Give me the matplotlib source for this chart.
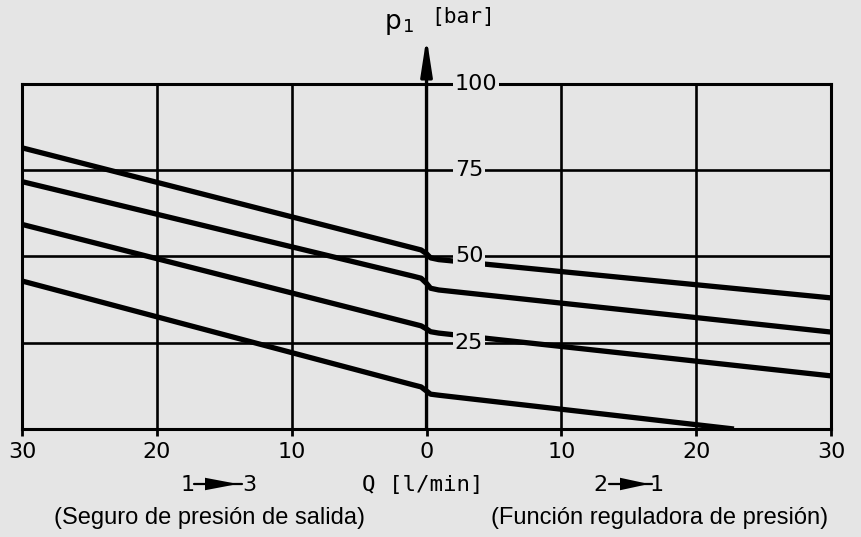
import matplotlib
matplotlib.use("Agg")
from matplotlib import pyplot as plt
from matplotlib.patches import FancyArrowPatch

# flow Q [l/min] (negative side = 1->3, positive side = 2->1) and pressure p1 [bar]
q_a = [-30, -1.0, -0.4, 0.0, 0.3, 0.9, 30]
p_a = [81.5, 52.5, 51.9, 50.8, 49.6, 49.1, 38.0]

q_b = [-30, -1.0, -0.4, 0.0, 0.3, 0.9, 30]
p_b = [71.7, 44.3, 43.7, 42.2, 40.8, 40.3, 28.1]

q_c = [-30, -1.0, -0.4, 0.0, 0.3, 0.9, 30]
p_c = [59.3, 30.5, 29.9, 29.0, 28.2, 27.8, 15.4]

q_d = [-30, -1.0, -0.4, 0.0, 0.3, 0.9, 22.8]
p_d = [42.9, 12.8, 12.2, 11.0, 10.1, 9.8, 0.0]

x_ticks = [-30, -20, -10, 0, 10, 20, 30]
x_labels = ["30", "20", "10", "0", "10", "20", "30"]
y_grid = [25, 50, 75]
y_labels = ["25", "50", "75", "100"]
y_label_vals = [25, 50, 75, 100]

bg = "#e5e5e5"
ink = "black"

fig = plt.figure(figsize=(8.61, 5.37), dpi=100, facecolor=bg)
ax = fig.add_axes([0.0256, 0.2011, 0.9396, 0.6425], facecolor=bg)
ax.set_xlim(-30, 30)
ax.set_ylim(0, 100)

for s in ax.spines.values():
    s.set_linewidth(2.2)
    s.set_color(ink)

# grid
for x in [-20, -10, 10, 20]:
    ax.axvline(x, color=ink, lw=1.9, zorder=1)
for y in y_grid:
    ax.axhline(y, color=ink, lw=1.9, zorder=1)

# curves
for q, p in [(q_a, p_a), (q_b, p_b), (q_c, p_c), (q_d, p_d)]:
    ax.plot(q, p, color=ink, lw=3.8, solid_capstyle="butt", zorder=2)

# vertical p1 axis with arrow
ax.annotate("", xy=(0, 113.5), xytext=(0, 0), xycoords="data",
            arrowprops=dict(arrowstyle="-|>,head_length=1.1,head_width=0.17",
                            mutation_scale=20, lw=2.4, color=ink,
                            shrinkA=0, shrinkB=0),
            annotation_clip=False, zorder=4)

# y labels on the axis, masking lines behind them
for v, t in zip(y_label_vals, y_labels):
    ax.text(2.1, v, t, ha="left", va="center", fontsize=16,
            family="DejaVu Sans", zorder=5, clip_on=False,
            bbox=dict(facecolor=bg, edgecolor="none", pad=1.5))

ax.set_yticks([])
ax.set_xticks(x_ticks)
ax.set_xticklabels(x_labels, fontsize=16, family="DejaVu Sans")
ax.tick_params(axis="x", direction="out", length=5, width=2, pad=4)

# axis titles
fig.text(393 / 861, 1 - 22 / 537, "p", fontsize=19, ha="center", va="center",
         family="DejaVu Sans")
fig.text(409 / 861, 1 - 27 / 537, "1", fontsize=13, ha="center", va="center",
         family="DejaVu Sans")
fig.text(463 / 861, 1 - 17 / 537, "[bar]", fontsize=15.3, ha="center", va="center",
         family="DejaVu Sans Mono")
fig.text(423 / 861, 1 - 485 / 537, "Q [l/min]", fontsize=16.2, ha="center",
         va="center", family="DejaVu Sans Mono")


def px(x, y):
    return (x / 861, 1 - y / 537)


# direction markers: "1 -> 3" and "2 -> 1"
for (a, b), (xa, xb), (l0, l1), (w0, w1) in [
        (("1", "3"), (188, 249), (194, 242), (205, 238)),
        (("2", "1"), (600, 657), (609, 652), (620, 649))]:
    fig.text(*px(xa, 485), a, fontsize=16, ha="center", va="center",
             family="DejaVu Sans")
    fig.text(*px(xb, 485), b, fontsize=16, ha="center", va="center",
             family="DejaVu Sans")
    fig.add_artist(FancyArrowPatch(px(l0, 484), px(l1, 484),
                                   transform=fig.transFigure, arrowstyle="-",
                                   lw=1.6, color=ink, shrinkA=0, shrinkB=0))
    fig.add_artist(FancyArrowPatch(px(w0, 484), px(w1, 484),
                                   transform=fig.transFigure,
                                   arrowstyle="wedge,tail_width=0.9,shrink_factor=0.5",
                                   mutation_scale=10, lw=0, color=ink,
                                   shrinkA=0, shrinkB=0))

# captions
fig.text(210 / 861, 1 - 518 / 537, "(Seguro de presión de salida)", fontsize=17,
         ha="center", va="center", family="Liberation Sans")
fig.text(660 / 861, 1 - 518 / 537, "(Función reguladora de presión)", fontsize=17,
         ha="center", va="center", family="Liberation Sans")

plt.savefig("out.png", dpi=100, facecolor=bg)
